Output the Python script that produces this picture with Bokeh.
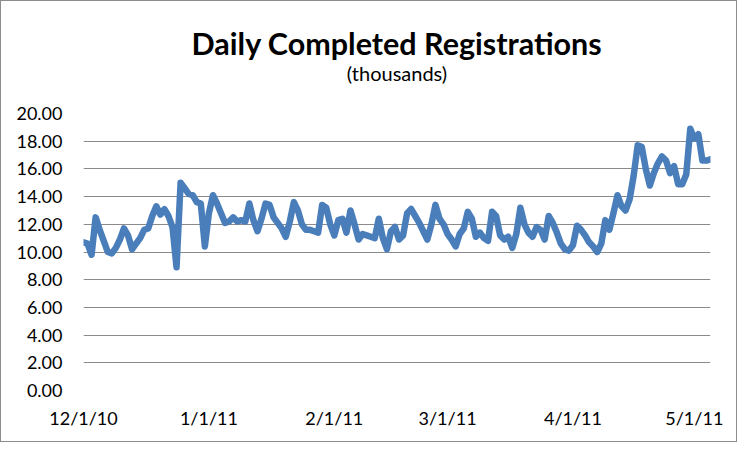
from datetime import datetime, timedelta
from bokeh.plotting import figure
from bokeh.models import Range1d, FixedTicker, DatetimeTickFormatter, NumeralTickFormatter, Title, ColumnDataSource
from bokeh.embed import file_html
from bokeh.resources import INLINE

# Daily completed registrations (thousands), starting 12/1/10
start_date = datetime(2010, 12, 1)
registrations = [
    10.7, 10.6, 9.8, 12.5, 11.6, 10.8, 10.0, 9.9, 10.3, 10.9,
    11.7, 11.2, 10.2, 10.6, 11.0, 11.6, 11.7, 12.6, 13.3, 12.7,
    13.1, 12.6, 11.8, 8.9, 15.0, 14.6, 14.2, 14.1, 13.6, 13.5,
    10.4, 12.8, 14.1, 13.5, 12.8, 12.1, 12.2, 12.5, 12.2, 12.3,
    12.2, 13.5, 12.3, 11.5, 12.4, 13.5, 13.4, 12.5, 12.1, 11.7,
    11.1, 12.2, 13.6, 13.0, 12.0, 11.6, 11.6, 11.5, 11.4, 13.4,
    13.2, 12.0, 11.2, 12.3, 12.4, 11.4, 13.0, 12.0, 10.9, 11.3,
    11.2, 11.1, 11.0, 12.4, 11.0, 10.2, 11.5, 11.8, 10.9, 11.2,
    12.8, 13.1, 12.6, 12.1, 11.5, 10.9, 12.0, 13.4, 12.4, 12.0,
    11.3, 10.9, 10.4, 11.3, 11.7, 12.9, 12.4, 11.1, 11.4, 11.0,
    10.8, 12.9, 12.6, 11.2, 10.9, 11.1, 10.3, 11.3, 13.2, 12.0,
    11.4, 11.1, 11.8, 11.6, 10.9, 12.6, 12.1, 11.4, 10.6, 10.2,
    10.1, 10.5, 11.9, 11.6, 11.2, 10.7, 10.4, 10.0, 10.6, 12.3,
    11.6, 12.8, 14.1, 13.3, 13.0, 13.8, 15.5, 17.7, 17.6, 16.0,
    14.8, 15.7, 16.4, 16.9, 16.6, 15.7, 16.2, 14.9, 14.9, 15.6,
    18.9, 18.2, 18.5, 16.6, 16.6, 16.7,
]
dates = [start_date + timedelta(days=i) for i in range(len(registrations))]

x_tick_dates = [datetime(2010, 12, 1), datetime(2011, 1, 1), datetime(2011, 2, 1),
                datetime(2011, 3, 1), datetime(2011, 4, 1), datetime(2011, 5, 1)]
y_ticks = [0, 2, 4, 6, 8, 10, 12, 14, 16, 18, 20]

title_text = "Daily Completed Registrations"
subtitle_text = "(thousands)"

epoch = datetime(1970, 1, 1)
def ms(d):
    return (d - epoch).total_seconds() * 1000.0

FONT = "Lato"

p = figure(width=737, height=442, output_backend="svg", toolbar_location=None,
           x_axis_type="datetime", title=None,
           x_range=Range1d(dates[0], dates[-1]), y_range=Range1d(0, 20))
p.min_border_left = 82
p.min_border_right = 28
p.min_border_top = 112
p.min_border_bottom = 53
p.outline_line_color = None
p.background_fill_color = "white"
p.border_fill_color = "white"
p.styles = {"border": "1px solid #8c8c8c"}

src = ColumnDataSource(dict(x=dates, y=registrations))
p.line("x", "y", source=src, line_color="#4a7ebb", line_width=6.5,
       line_join="round", line_cap="round")

# axes
p.xaxis.ticker = FixedTicker(ticks=[ms(d) for d in x_tick_dates])
fmt = "%-m/%-d/%y"
p.xaxis.formatter = DatetimeTickFormatter(milliseconds=fmt, seconds=fmt, minsec=fmt, minutes=fmt,
                                          hourmin=fmt, hours=fmt, days=fmt, months=fmt, years=fmt)
p.yaxis.ticker = FixedTicker(ticks=y_ticks)
p.yaxis.formatter = NumeralTickFormatter(format="0.00")

for ax in (p.xaxis, p.yaxis):
    ax.axis_line_color = None
    ax.major_tick_line_color = None
    ax.minor_tick_line_color = None
    ax.major_tick_in = 0
    ax.major_tick_out = 0
    ax.minor_tick_in = 0
    ax.minor_tick_out = 0
    ax.major_label_text_font = FONT
    ax.major_label_text_font_size = "18px"
    ax.major_label_text_color = "#000000"
p.yaxis.major_label_standoff = 21
p.xaxis.major_label_standoff = 16

p.xgrid.grid_line_color = None
p.ygrid.grid_line_color = "#8a8a8a"
p.ygrid.grid_line_width = 1.2

# subtitle first (closest to plot), then main title above it
p.add_layout(Title(text=subtitle_text, align="center", text_font=FONT,
                   text_font_size="20px", text_font_style="normal",
                   text_color="#000000", standoff=57), "above")
p.add_layout(Title(text=title_text, align="center", text_font=FONT,
                   text_font_size="30.5px", text_font_style="bold",
                   text_color="#000000", standoff=-61), "above")

open("out.html", "w").write(file_html(p, INLINE))
